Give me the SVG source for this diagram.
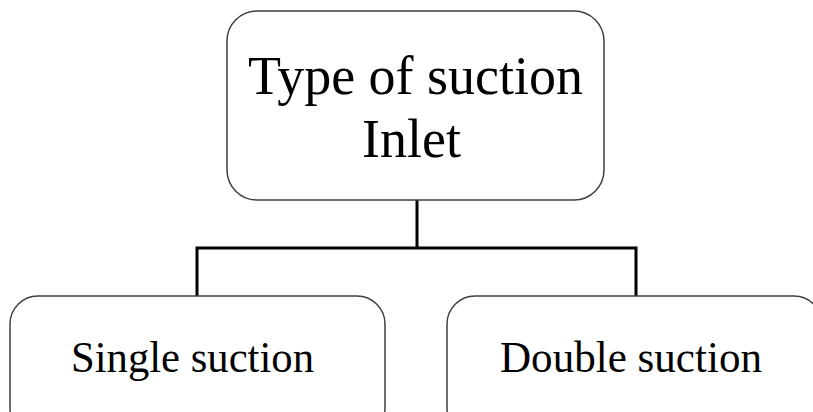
<svg xmlns="http://www.w3.org/2000/svg" width="813" height="412" viewBox="0 0 813 412">
<style>
.box{fill:#fff;stroke:#404040;stroke-width:1.5}
.conn{fill:none;stroke:#000;stroke-width:3}
text{font-family:"Liberation Serif","DejaVu Serif",serif;fill:#000;text-anchor:middle}
.big{font-size:55px}
.mid{font-size:45px}
</style>
<rect width="813" height="412" fill="#fff"/>
<g id="connectors">
<path class="conn" d="M417,200 V248 M197,296 V248 H636 V296"/>
</g>
<g id="top">
<rect class="box" x="227" y="11" width="377" height="189" rx="30"/>
<text class="big" x="415.5" y="94" textLength="335" lengthAdjust="spacingAndGlyphs">Type of suction</text>
<text class="big" x="411.5" y="157" textLength="99" lengthAdjust="spacingAndGlyphs">Inlet</text>
</g>
<g id="single">
<rect class="box" x="10" y="296" width="375" height="140" rx="28"/>
<text class="mid" x="192.5" y="372" textLength="243" lengthAdjust="spacingAndGlyphs">Single suction</text>
</g>
<g id="double">
<rect class="box" x="447" y="296" width="375" height="140" rx="28"/>
<text class="mid" x="631" y="372" textLength="262" lengthAdjust="spacingAndGlyphs">Double suction</text>
</g>
</svg>
